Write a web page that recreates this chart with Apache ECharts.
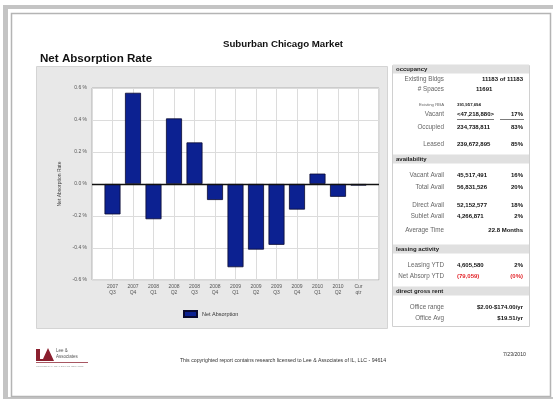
<!DOCTYPE html>
<html><head><meta charset="utf-8">
<script src="https://cdn.jsdelivr.net/npm/echarts@6/dist/echarts.min.js"></script>
<style>html,body{margin:0;padding:0;background:#fff}#c{width:553px;height:401px}</style>
</head><body><div id="c"></div>
<script>
// ---- data ----
const categories = ['', '2007\nQ3', '2007\nQ4', '2008\nQ1', '2008\nQ2', '2008\nQ3', '2008\nQ4', '2009\nQ1', '2009\nQ2', '2009\nQ3', '2009\nQ4', '2010\nQ1', '2010\nQ2', 'Cur\nqtr', ''];
const netAbsorption = [null, -0.19, 0.57, -0.22, 0.41, 0.26, -0.10, -0.52, -0.41, -0.38, -0.16, 0.065, -0.08, -0.01, null];
const yTicks = [-0.6, -0.4, -0.2, 0.0, 0.2, 0.4, 0.6];
const seriesName = 'Net Absorption';
const pageTitle = 'Suburban Chicago Market';
const chartTitle = 'Net Absorption Rate';
const yAxisName = 'Net Absorption Rate';
const tableHeaders = ['occupancy', 'availability', 'leasing activity', 'direct gross rent'];
const tableLabels = ['Existing Bldgs', '# Spaces', 'Existing RBA', 'Vacant', 'Occupied', 'Leased', 'Vacant Avail', 'Total Avail', 'Direct Avail', 'Sublet Avail', 'Average Time', 'Leasing YTD', 'Net Absorp YTD', 'Office range', 'Office Avg'];
const tableValues = ['11183 of 11183', '11691', '391,957,694', '<47,218,880>', '234,738,811', '239,672,895', '45,517,491', '56,831,526', '52,152,577', '4,266,871', '22.8 Months', '4,605,580', '(79,059)', '$2.00-$174.00/yr', '$19.51/yr'];
const tablePercents = ['', '', '', '17%', '83%', '85%', '16%', '20%', '18%', '2%', '', '2%', '(0%)', '', ''];
const footerText = 'This copyrighted report contains research licensed to Lee & Associates of IL, LLC - 94614';
const footerDate = '7/23/2010';

// ---- layout (positions/styles) ----
const headerY = [69, 159, 249, 291];
const rowY = [79, 89, 105, 114, 127, 144, 175, 187, 205, 216, 230, 265, 276, 307, 318];
const valueAlign = ['right', 'mid', 'left', 'left', 'left', 'left', 'left', 'left', 'left', 'left', 'right', 'left', 'left', 'right', 'right'];
const FONT = 'Liberation Sans, Arial, sans-serif';

const g = [];
g.push({type: 'rect', shape: {x: 3, y: 5, width: 550, height: 394}, style: {fill: '#c4c4c4'}, silent: true, z: -10});
g.push({type: 'rect', shape: {x: 8, y: 9, width: 545, height: 388}, style: {fill: '#fff'}, silent: true, z: -9});
g.push({type: 'rect', shape: {x: 11.5, y: 13.5, width: 539, height: 383}, style: {fill: '#fff', stroke: '#b4b4b4', lineWidth: 1.5}, silent: true, z: -8});
g.push({type: 'rect', shape: {x: 36.5, y: 66.5, width: 351, height: 262}, style: {fill: '#e8e8e8', stroke: '#d4d4d4', lineWidth: 1}, silent: true, z: -5});
g.push({type: 'text', style: {text: pageTitle, x: 283, y: 44, font: 'bold 9.7px ' + FONT, fill: '#111', textAlign: 'center', textVerticalAlign: 'middle'}});
g.push({type: 'text', style: {text: chartTitle, x: 40, y: 59, font: 'bold 11.6px ' + FONT, fill: '#111', textAlign: 'left', textVerticalAlign: 'middle'}});
g.push({type: 'rect', shape: {x: 392.5, y: 65.5, width: 137, height: 261}, style: {fill: '#fff', stroke: '#d0d0d0', lineWidth: 1}, silent: true, z: -5});
headerY.forEach((y, i) => {
  g.push({type: 'rect', shape: {x: 393, y: y - 4.5, width: 136, height: 9}, style: {fill: '#e0e0e0'}, silent: true, z: -4});
  g.push({type: 'text', style: {text: tableHeaders[i], x: 396, y: y, font: 'bold 6px ' + FONT, fill: '#222', textAlign: 'left', textVerticalAlign: 'middle'}});
});
tableLabels.forEach((lab, i) => {
  const y = rowY[i];
  const small = i === 2;
  const fs = small ? 4.3 : 6;
  const red = i === 12;
  g.push({type: 'text', style: {text: lab, x: 444, y: y, font: (small ? 4.3 : 6.3) + 'px ' + FONT, fill: '#666', textAlign: 'right', textVerticalAlign: 'middle'}});
  let vx = 457, va = 'left';
  if (valueAlign[i] === 'right') { vx = 523; va = 'right'; }
  else if (valueAlign[i] === 'mid') { vx = 476; va = 'left'; }
  g.push({type: 'text', style: {text: tableValues[i], x: vx, y: y, font: 'bold ' + fs + 'px ' + FONT, fill: red ? '#e3262b' : '#111', textAlign: va, textVerticalAlign: 'middle'}});
  if (tablePercents[i]) {
    g.push({type: 'text', style: {text: tablePercents[i], x: 523, y: y, font: 'bold 6px ' + FONT, fill: red ? '#e3262b' : '#111', textAlign: 'right', textVerticalAlign: 'middle'}});
  }
});
g.push({type: 'line', shape: {x1: 457, y1: 119.5, x2: 494, y2: 119.5}, style: {stroke: '#444', lineWidth: 0.7}});
g.push({type: 'line', shape: {x1: 500, y1: 119.5, x2: 524, y2: 119.5}, style: {stroke: '#444', lineWidth: 0.7}});
// footer logo
g.push({type: 'polygon', shape: {points: [[36, 349], [40, 349], [40, 359], [43, 359], [48, 348], [54, 361], [36, 361]]}, style: {fill: '#8a1f2e'}});
g.push({type: 'rect', shape: {x: 36, y: 362, width: 52, height: 0.8}, style: {fill: '#8a1f2e'}});
g.push({type: 'text', style: {text: 'Lee &', x: 56, y: 351, font: '4.5px ' + FONT, fill: '#555', textAlign: 'left', textVerticalAlign: 'middle'}});
g.push({type: 'text', style: {text: 'Associates', x: 56, y: 357, font: '4.5px ' + FONT, fill: '#555', textAlign: 'left', textVerticalAlign: 'middle'}});
g.push({type: 'text', style: {text: 'COMMERCIAL REAL ESTATE SERVICES', x: 36, y: 366, font: '2.5px ' + FONT, fill: '#999', textAlign: 'left', textVerticalAlign: 'middle'}});
g.push({type: 'text', style: {text: footerText, x: 283, y: 361, font: '5.2px ' + FONT, fill: '#333', textAlign: 'center', textVerticalAlign: 'middle'}});
g.push({type: 'text', style: {text: footerDate, x: 526, y: 355, font: '5.2px ' + FONT, fill: '#333', textAlign: 'right', textVerticalAlign: 'middle'}});

const chart = echarts.init(document.getElementById('c'), null, {renderer: 'canvas'});
chart.setOption({
  animation: false,
  backgroundColor: '#fff',
  textStyle: {fontFamily: FONT},
  graphic: {elements: g},
  grid: {left: 92, top: 88, width: 287, height: 192, show: true, backgroundColor: '#fff', borderColor: '#b0b0b0', borderWidth: 1, containLabel: false},
  legend: {
    left: 178, top: 305, itemWidth: 13, itemHeight: 6, itemGap: 2, padding: 5,
    textStyle: {fontSize: 5.5, color: '#333', fontFamily: FONT},
    data: [{name: seriesName, icon: 'rect'}]
  },
  xAxis: {
    type: 'category', data: categories, boundaryGap: false,
    axisLine: {show: false}, axisTick: {show: false},
    axisLabel: {interval: 0, fontSize: 5, lineHeight: 6, color: '#555', margin: 4},
    splitLine: {show: true, interval: 0, lineStyle: {color: '#dcdcdc', width: 1}}
  },
  yAxis: {
    type: 'value', min: yTicks[0], max: yTicks[yTicks.length - 1], interval: 0.2,
    name: yAxisName, nameLocation: 'middle', nameRotate: 90, nameGap: 27,
    nameTextStyle: {fontSize: 5, color: '#444'},
    axisLine: {show: false}, axisTick: {show: false},
    axisLabel: {fontSize: 5, color: '#555', margin: 5, formatter: v => v.toFixed(1) + ' %'},
    splitLine: {lineStyle: {color: '#dcdcdc', width: 1}}
  },
  series: [{
    name: seriesName, type: 'bar', data: netAbsorption, barWidth: 16,
    itemStyle: {color: '#0c2191', borderColor: '#0a0a30', borderWidth: 0.8},
    markLine: {silent: true, symbol: 'none', label: {show: false},
      lineStyle: {color: '#111', width: 1.3, type: 'solid'}, data: [{yAxis: 0}]}
  }]
});
</script></body></html>
